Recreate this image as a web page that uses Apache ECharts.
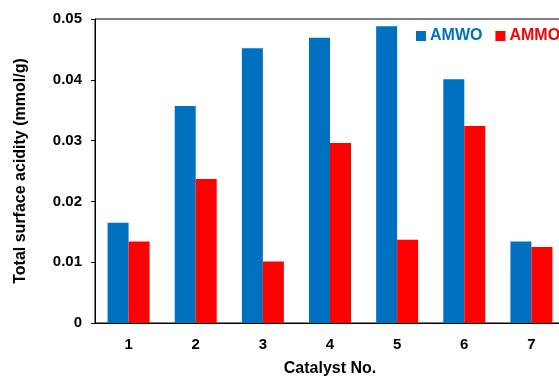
<!DOCTYPE html>
<html>
<head>
<meta charset="utf-8">
<script src="https://cdn.jsdelivr.net/npm/echarts@6/dist/echarts.min.js"></script>
<style>
  html, body { margin: 0; padding: 0; background: #fff; }
  #chart { width: 559px; height: 378px; }
</style>
</head>
<body>
<div id="chart"></div>
<script>
  // catalyst numbers
  const categories = ['1', '2', '3', '4', '5', '6', '7']
  // total surface acidity (mmol/g)
  const amwo = [0.0165, 0.0357, 0.0452, 0.0469, 0.0488, 0.0401, 0.0134]
  const ammo = [0.0134, 0.0237, 0.0101, 0.0296, 0.0137, 0.0324, 0.0125]
  const yTicks = [0, 0.01, 0.02, 0.03, 0.04, 0.05]

  const font = 'Liberation Sans, Arial, sans-serif'
  const myChart = echarts.init(document.getElementById('chart'))
  const option = {
    animation: false,
    textStyle: { fontFamily: font },
    grid: {
      left: 95,
      right: -6,
      top: 19,
      bottom: 55,
      outerBoundsMode: 'none',
      containLabel: false,
      show: true,
      borderColor: '#000',
      borderWidth: 1,
    },
    legend: {
      data: ['AMWO', 'AMMO'],
      top: 23,
      left: 411,
      width: 260,
      orient: 'horizontal',
      icon: 'rect',
      itemWidth: 10,
      itemHeight: 10,
      itemGap: 13,
      textStyle: {
        color: 'inherit',
        fontSize: 16,
        fontWeight: 'bold',
        fontFamily: font,
        padding: [0, 0, 0, -1],
      },
    },
    xAxis: {
      type: 'category',
      data: categories,
      name: 'Catalyst No.',
      nameLocation: 'middle',
      nameGap: 38,
      nameTextStyle: { color: '#000', fontSize: 16, fontWeight: 'bold', fontFamily: font },
      axisLine: { lineStyle: { color: '#000', width: 1 } },
      axisTick: { show: false },
      axisLabel: { color: '#000', fontSize: 15, fontWeight: 'bold', margin: 14 },
    },
    yAxis: {
      type: 'value',
      min: yTicks[0],
      max: yTicks[yTicks.length - 1],
      interval: 0.01,
      name: 'Total surface acidity (mmol/g)',
      nameLocation: 'middle',
      nameGap: 66,
      nameTextStyle: { color: '#000', fontSize: 16, fontWeight: 'bold', fontFamily: font },
      axisLine: { show: true, lineStyle: { color: '#000', width: 1 } },
      axisTick: { show: true, length: 4, lineStyle: { color: '#000' } },
      splitLine: { show: false },
      axisLabel: {
        color: '#000',
        fontSize: 15,
        fontWeight: 'bold',
        margin: 13,
        formatter: function (v) { return v === 0 ? '0' : v.toFixed(2) },
      },
    },
    series: [
      {
        name: 'AMWO',
        type: 'bar',
        data: amwo,
        barWidth: 21,
        barGap: '0%',
        itemStyle: { color: '#0070C0' },
      },
      {
        name: 'AMMO',
        type: 'bar',
        data: ammo,
        barWidth: 21,
        itemStyle: { color: '#FF0000' },
      },
    ],
  }
  myChart.setOption(option)
</script>
</body>
</html>
